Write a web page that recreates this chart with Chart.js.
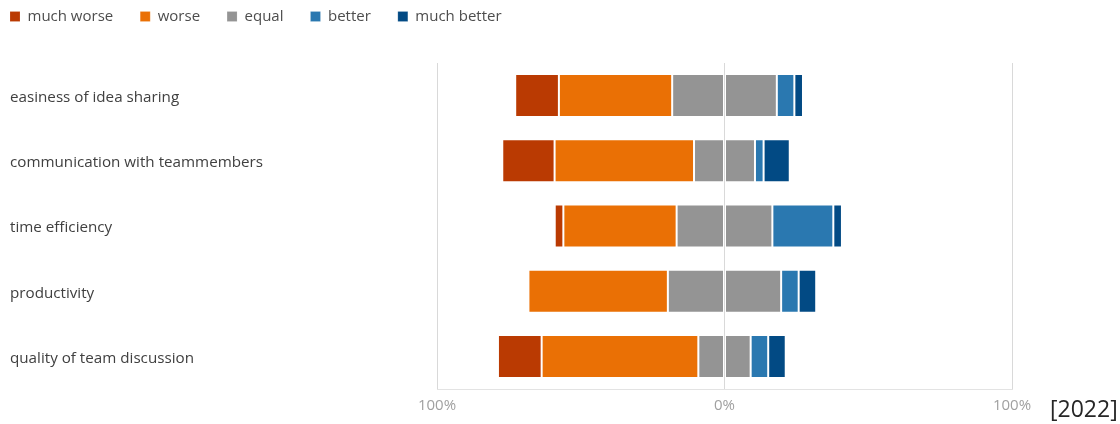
<!DOCTYPE html>
<html>
<head>
<meta charset="utf-8">
<script src="https://cdn.jsdelivr.net/npm/chart.js@4.4.1/dist/chart.umd.min.js"></script>
<style>
  body { margin: 0; background: #fff; }
  #wrap { position: relative; width: 1120px; height: 424px; }
  #year { position: absolute; left: 1050px; top: 392px; font-family: "Open Sans", sans-serif; font-size: 23px; color: #262626; }
</style>
</head>
<body>
<div id="wrap">
  <canvas id="myChart"></canvas>
  <div id="year">[2022]</div>
</div>
<script>
// values in % of answers
var categories = ['easiness of idea sharing', 'communication with teammembers', 'time efficiency', 'productivity', 'quality of team discussion'];
var muchWorse  = [15.2, 18.2, 3.0, 0, 15.2];
var worse      = [39.4, 48.5, 39.4, 48.5, 54.5];
var equal      = [36.4, 21.2, 33.3, 39.4, 18.2];
var better     = [6.1, 3.0, 21.2, 6.1, 6.1];
var muchBetter = [3.0, 9.1, 3.0, 6.1, 6.1];
var xTicks = [-100, 0, 100];

var neg = function(arr){ return arr.map(function(v){ return -v; }); };
var half = function(arr, s){ return arr.map(function(v){ return s * v / 2; }); };

function bar(label, data, color, order) {
  return {
    label: label,
    data: data,
    order: order,
    backgroundColor: color,
    borderColor: 'rgba(255,255,255,0.15)',
    borderWidth: 1,
    borderSkipped: false,
    barPercentage: 0.66,
    categoryPercentage: 1
  };
}

// move the legend up to the top left corner
var legendShift = {
  id: 'legendShift',
  afterLayout: function(chart) {
    chart.legend.left -= 27;
    chart.legend.top -= 29;
  }
};

var ctx = document.getElementById('myChart');
var myChart = new Chart(ctx, {
  type: 'bar',
  data: {
    labels: categories,
    datasets: [
      bar('much worse', neg(muchWorse), '#BA3A02', 2),
      bar('worse', neg(worse), '#EA7005', 1),
      bar('equal', half(equal, -1), '#949494', 0),
      bar('equal ', half(equal, 1), '#949494', 0),
      bar('better', better, '#2A78B0', 1),
      bar('much better', muchBetter, '#024A84', 2)
    ]
  },
  options: {
    indexAxis: 'y',
    responsive: true,
    maintainAspectRatio: false,
    animation: false,
    layout: { padding: { left: 10, right: 108, top: 11, bottom: 1 } },
    plugins: {
      legend: {
        position: 'top',
        align: 'start',
        labels: {
          boxWidth: 10,
          boxHeight: 10,
          padding: 27,
          color: '#4d4d4d',
          font: { family: 'Open Sans', size: 15 },
          sort: function(a, b){ return a.datasetIndex - b.datasetIndex; },
          filter: function(item){ return item.datasetIndex !== 3; }
        }
      },
      tooltip: { enabled: false }
    },
    scales: {
      x: {
        stacked: true,
        min: -100,
        max: 100,
        z: 1,
        afterBuildTicks: function(scale){ scale.ticks = xTicks.map(function(v){ return { value: v }; }); },
        ticks: {
          padding: 8,
          color: '#a0a0a0',
          font: { family: 'Open Sans', size: 15 },
          callback: function(v){ return Math.abs(v) + '%'; }
        },
        grid: { color: '#d9d9d9', drawTicks: false },
        border: { color: '#e3e3e3' }
      },
      y: {
        stacked: true,
        afterFit: function(scale){ scale.width = 427; },
        ticks: {
          crossAlign: 'far',
          labelOffset: 2,
          color: '#404040',
          font: { family: 'Open Sans', size: 15.2 }
        },
        grid: { display: false },
        border: { display: false }
      }
    }
  },
  plugins: [legendShift]
});
</script>
</body>
</html>
